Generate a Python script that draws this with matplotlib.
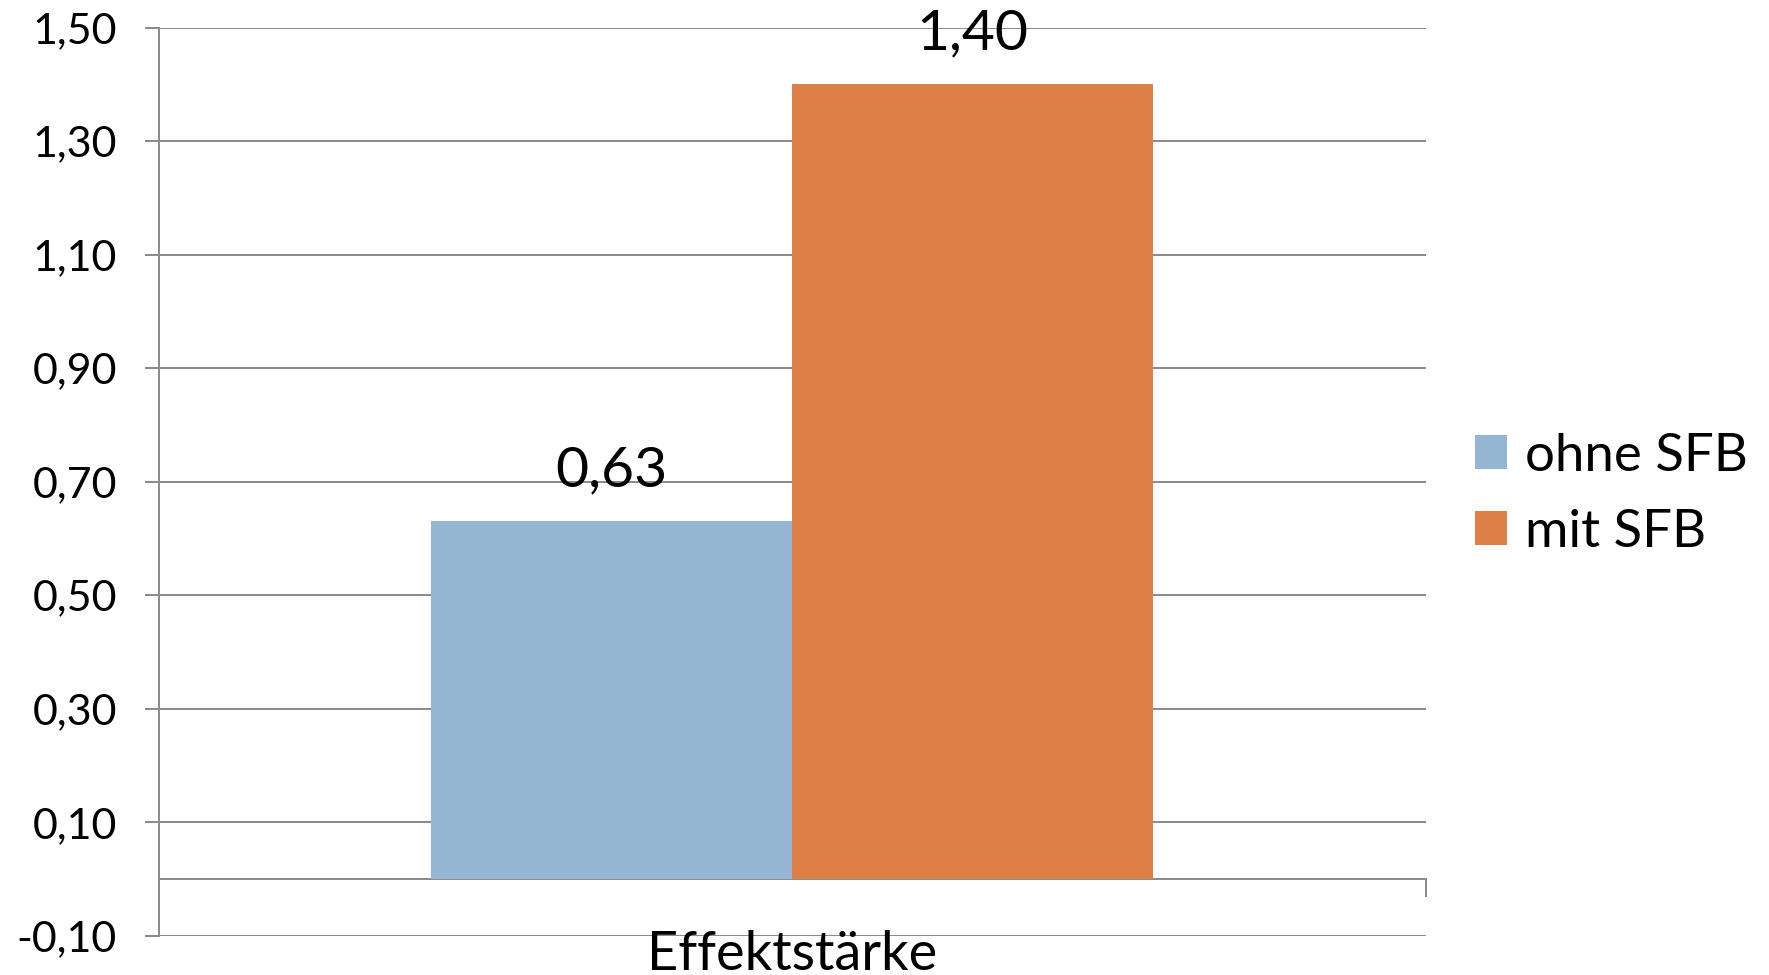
import matplotlib
matplotlib.use("Agg")
import matplotlib.pyplot as plt
from matplotlib.ticker import FuncFormatter

# data
categories = ["Effektstärke"]
series_names = ["ohne SFB", "mit SFB"]
series_values = [[0.63], [1.40]]
colors = ["#95B6D3", "#DE7F48"]
y_ticks = [-0.10, 0.10, 0.30, 0.50, 0.70, 0.90, 1.10, 1.30, 1.50]

plt.rcParams["font.family"] = ["Lato", "DejaVu Sans"]
grey = "#8c8c8c"
lw = 1.44

fig = plt.figure(figsize=(17.69, 9.75), dpi=100)
ax = fig.add_axes([0.0897, 0.0403, 0.7163, 0.9313])

bar_w = 0.285
n = len(series_names)
for i, (name, vals) in enumerate(zip(series_names, series_values)):
    xs = [c + (i - (n - 1) / 2) * bar_w for c in range(len(categories))]
    bars = ax.bar(xs, vals, width=bar_w, color=colors[i], label=name, zorder=3)
    ax.bar_label(bars, labels=[f"{v:.2f}".replace(".", ",") for v in vals],
                 padding=18, fontsize=41, zorder=4)

ax.set_xlim(-0.5, len(categories) - 0.5)
ax.set_ylim(y_ticks[0], y_ticks[-1])
ax.set_yticks(y_ticks)
ax.yaxis.set_major_formatter(FuncFormatter(lambda v, p: f"{v:.2f}".replace(".", ",")))
ax.yaxis.grid(True, color=grey, lw=lw, zorder=0)
ax.tick_params(axis="y", length=10, width=lw, color=grey, pad=20, labelsize=31)

# category axis at zero with boundary ticks
ax.spines["bottom"].set_position(("data", 0))
ax.spines["bottom"].set_color(grey)
ax.spines["bottom"].set_linewidth(lw)
ax.set_xticks([-0.5 + k for k in range(len(categories) + 1)])
ax.set_xticklabels([""] * (len(categories) + 1))
ax.tick_params(axis="x", length=13, width=lw, color=grey, direction="out")
ax.spines["left"].set_color(grey)
ax.spines["left"].set_linewidth(lw)
ax.spines["top"].set_visible(False)
ax.spines["right"].set_visible(False)

for c, cat in enumerate(categories):
    ax.annotate(cat, xy=(c, y_ticks[0]), xytext=(0, 4), textcoords="offset points",
                ha="center", va="top", fontsize=39, annotation_clip=False)

fig.legend(loc="center left", bbox_to_anchor=(0.834, 0.493), frameon=False,
           fontsize=38, handlelength=0.6, handleheight=0.6, handletextpad=0.35,
           labelspacing=0.55, borderpad=0, borderaxespad=0)

fig.savefig("out.png", dpi=100, facecolor="white")
